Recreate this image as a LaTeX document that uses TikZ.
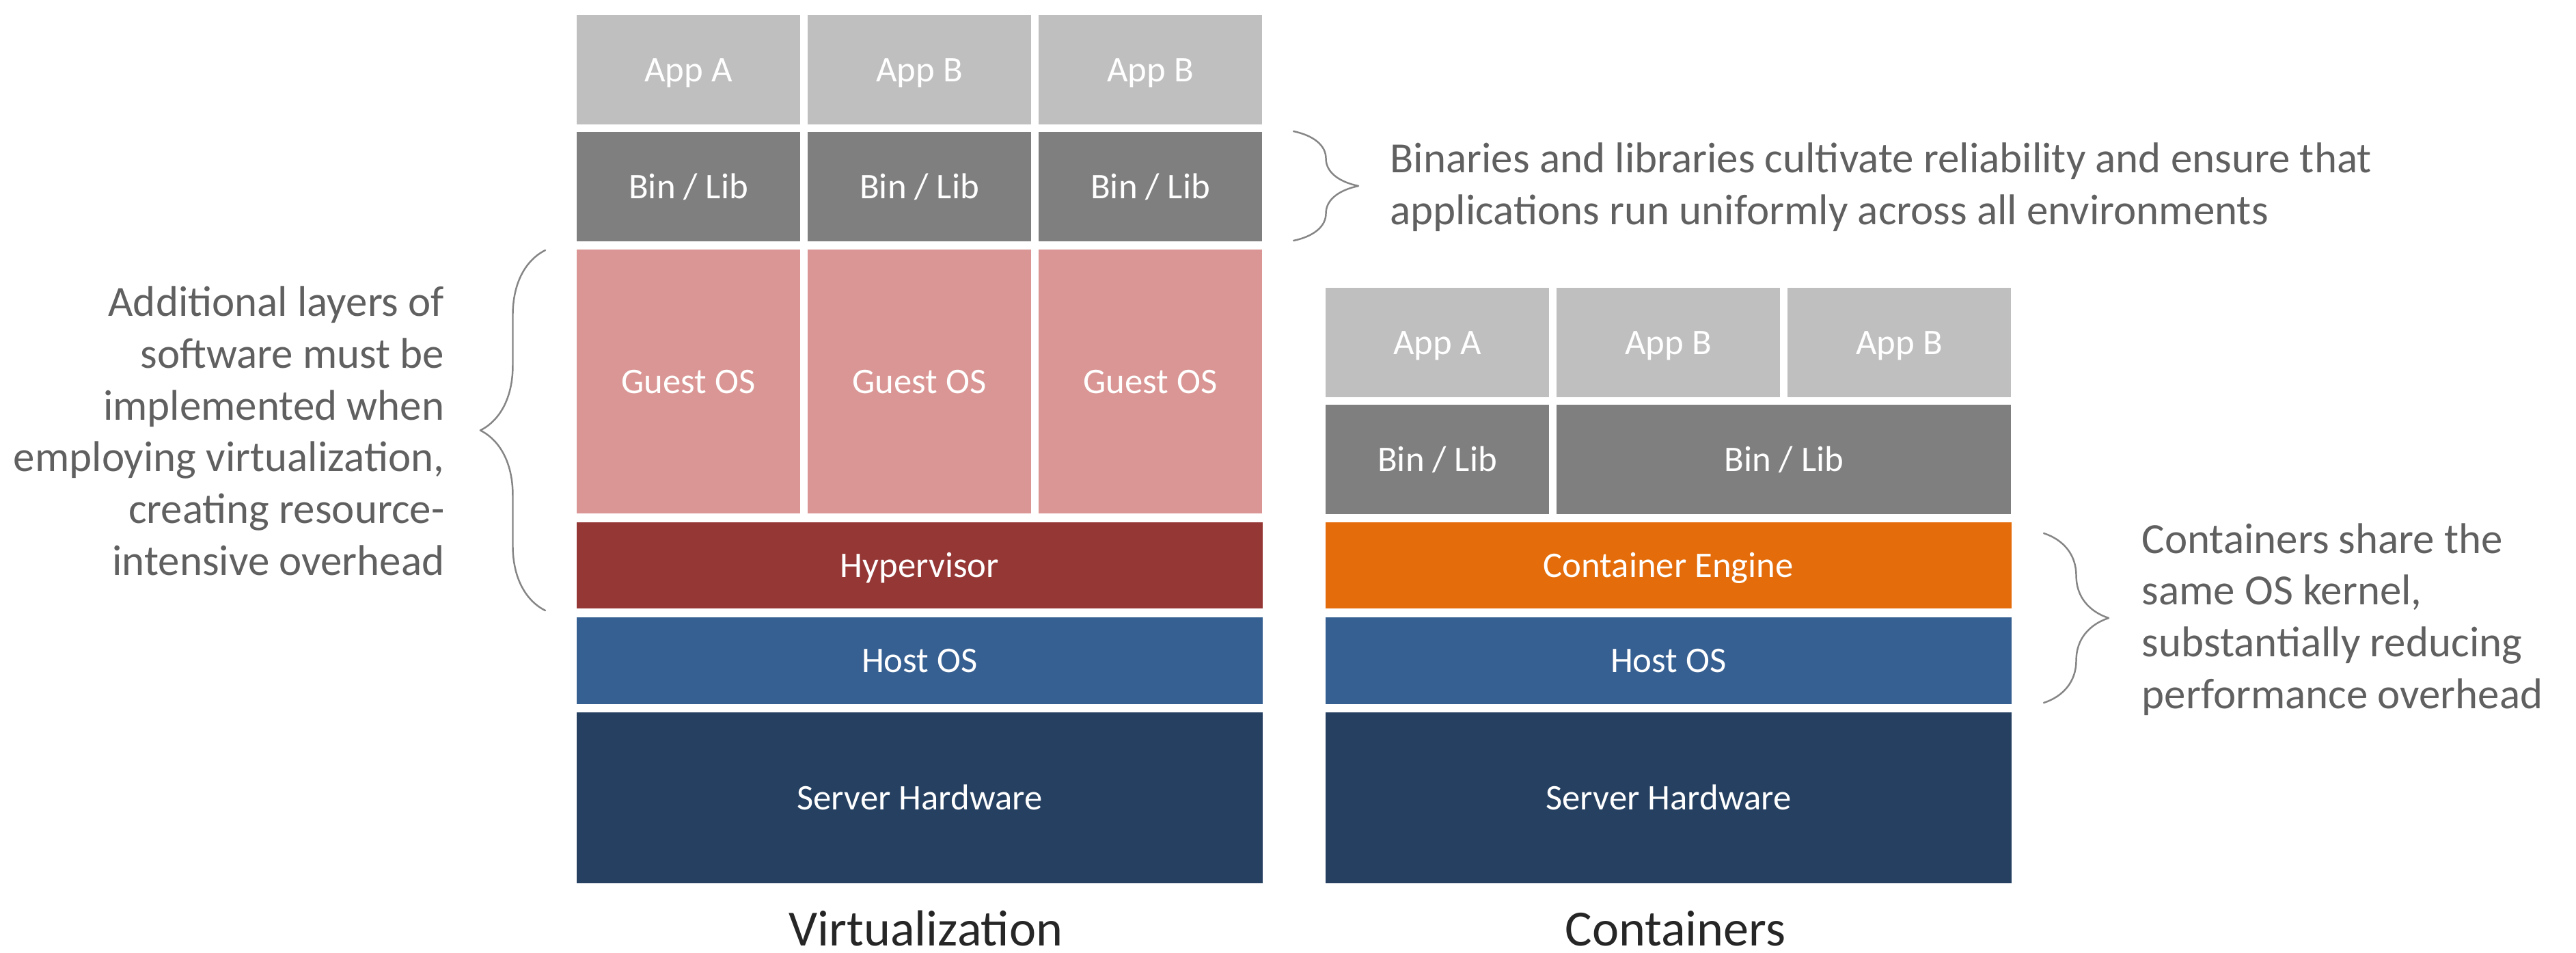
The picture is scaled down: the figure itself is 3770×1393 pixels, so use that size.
\documentclass[tikz,border=0pt]{standalone}
\usepackage{fontspec}
\setmainfont{Carlito}
\usetikzlibrary{decorations.pathreplacing}
\definecolor{appgray}{HTML}{BFBFBF}
\definecolor{bingray}{HTML}{7F7F7F}
\definecolor{guestpink}{HTML}{D99694}
\definecolor{hyperred}{HTML}{953735}
\definecolor{hostblue}{HTML}{376092}
\definecolor{hwnavy}{HTML}{254061}
\definecolor{engineorange}{HTML}{E46C0A}
\definecolor{notegray}{HTML}{606060}
\definecolor{bracegray}{HTML}{858585}
\definecolor{titlegray}{HTML}{262626}
\begin{document}
\begin{tikzpicture}[x=0.01cm, y=-0.01cm, line join=round, line cap=round,
	layer/.style={anchor=north west, inner sep=0pt, outer sep=0pt, text=white,
		font=\fontsize{15}{18}\selectfont, text height=9.7pt, text depth=0pt},
	note/.style={inner sep=0pt, text=notegray, font=\fontsize{17.9}{21.5}\selectfont},
	title/.style={inner sep=0pt, text=titlegray, font=\fontsize{21.1}{25}\selectfont},
	curly/.style={draw=bracegray, line width=0.7pt, decorate,
		decoration={brace, amplitude=0.95cm}}]
	\useasboundingbox (0,0) rectangle (3770,1393);
	% Virtualization stack
	\foreach \i/\x/\t in {1/844/App A, 2/1182/App B, 3/1520/App B}{
		\node[layer, fill=appgray, minimum width=3.27cm, minimum height=1.6cm] (vApp\i) at (\x,22) {\t};
		\node[layer, fill=bingray, minimum width=3.27cm, minimum height=1.6cm] (vBin\i) at (\x,193) {Bin / Lib};
		\node[layer, fill=guestpink, minimum width=3.27cm, minimum height=3.86cm] (vGuest\i) at (\x,365) {Guest OS};
	}
	\node[layer, fill=hyperred, minimum width=10.03cm, minimum height=1.26cm] (vHyp) at (844,764) {Hypervisor};
	\node[layer, fill=hostblue, minimum width=10.03cm, minimum height=1.27cm] (vHost) at (844,903) {Host OS};
	\node[layer, fill=hwnavy, minimum width=10.03cm, minimum height=2.5cm] (vHw) at (844,1042) {Server Hardware};
	% Containers stack
	\foreach \i/\x/\t in {1/1940/App A, 2/2278/App B, 3/2616/App B}{
		\node[layer, fill=appgray, minimum width=3.27cm, minimum height=1.6cm] (cApp\i) at (\x,421) {\t};
	}
	\node[layer, fill=bingray, minimum width=3.27cm, minimum height=1.6cm] (cBin1) at (1940,592) {Bin / Lib};
	\node[layer, fill=bingray, minimum width=6.65cm, minimum height=1.6cm] (cBin2) at (2278,592) {Bin / Lib};
	\node[layer, fill=engineorange, minimum width=10.03cm, minimum height=1.26cm] (cEng) at (1940,764) {Container Engine};
	\node[layer, fill=hostblue, minimum width=10.03cm, minimum height=1.27cm] (cHost) at (1940,903) {Host OS};
	\node[layer, fill=hwnavy, minimum width=10.03cm, minimum height=2.5cm] (cHw) at (1940,1042) {Server Hardware};
	% Titles
	\node[title, anchor=base] (vTitle) at (1355,1383) {Virtualization};
	\node[title, anchor=base] (cTitle) at (2452,1383) {Containers};
	% Braces
	\coordinate (L1) at (798,893);
	\coordinate (L2) at (798,366);
	\coordinate (T1) at (1893,192);
	\coordinate (T2) at (1893,352);
	\coordinate (R1) at (2991,780);
	\coordinate (R2) at (2991,1028);
	\draw[curly] (L1) -- (L2);
	\draw[curly] (T1) -- (T2);
	\draw[curly] (R1) -- (R2);
	% Notes (base = last line)
	\node[note, anchor=base west, align=left] (topNote) at (2034,328)
		{Binaries and libraries cultivate reliability and ensure that\\applications run uniformly across all environments};
	\node[note, anchor=base east, align=right] (leftNote) at (651,841)
		{Additional layers of\\software must be\\implemented when\\employing virtualization,\\creating resource-\\intensive overhead};
	\node[note, anchor=base west, align=left] (rightNote) at (3134,1036)
		{Containers share the\\same OS kernel,\\substantially reducing\\performance overhead};
\end{tikzpicture}
\end{document}
